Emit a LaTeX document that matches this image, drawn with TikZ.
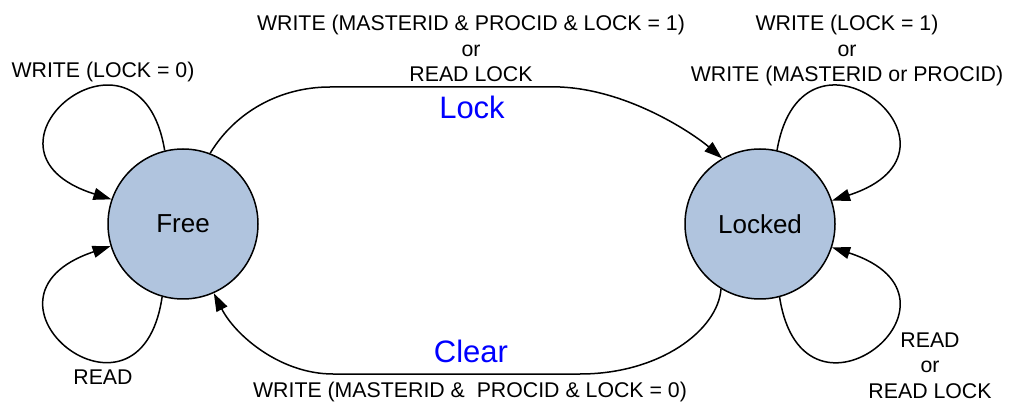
\documentclass[tikz,border=0pt]{standalone}
\usepackage{fontspec}
\setmainfont{Liberation Sans}
\usetikzlibrary{arrows.meta}
\definecolor{statefill}{RGB}{176,196,222}
\definecolor{tagblue}{RGB}{0,0,255}
\begin{document}
\begin{tikzpicture}[x=1pt,y=-1pt,
  statenode/.style={circle, draw, line width=1.5pt, fill=statefill,
    minimum size=150pt, inner sep=0pt, font=\fontsize{26}{30}\selectfont},
  trans/.style={line width=1.5pt, -{Triangle[length=18pt,width=12pt]}},
  lbl/.style={font=\fontsize{21.3}{25.5}\selectfont, inner sep=0pt, align=center},
  edgetag/.style={font=\fontsize{31}{36}\selectfont, text=tagblue, inner sep=0pt}]
\useasboundingbox (0,0) rectangle (1012,403);

% states
\node[statenode] (free)   at (183,224) {Free};
\node[statenode] (locked) at (760,224) {Locked};

% Free -> Locked
\draw[trans] (free.69) .. controls (235,112) and (280,87) .. (330,87)
  -- (560,87) .. controls (630,90) and (695,135) .. (locked.120);
% Locked -> Free
\draw[trans] (locked.239) .. controls (718,330) and (660,374) .. (580,374)
  -- (333,374) .. controls (280,374) and (235,335) .. (free.294);

% self loops
\draw[trans] (free.104) .. controls (140,0) and (-45,150) .. (free.161);
\draw[trans] (free.254) .. controls (140,448) and (-45,298) .. (free.197);
\draw[trans] (locked.77) .. controls (803,0) and (988,150) .. (locked.18);
\draw[trans] (locked.285) .. controls (803,448) and (988,298) .. (locked.342);

% conditions
\node[lbl, anchor=base]  (wl0)       at (103,77.5)  {WRITE (LOCK = 0)};
\node[lbl, anchor=base]  (rd)        at (103,384.5) {READ};
\node[lbl, anchor=north] (lockcond)  at (471,15)    {WRITE (MASTERID \& PROCID \& LOCK = 1)\\or\\READ LOCK};
\node[lbl, anchor=north] (relock)    at (847,15)    {WRITE (LOCK = 1)\\or\\WRITE (MASTERID or PROCID)};
\node[lbl, anchor=north] (reread)    at (930,332.5) {READ\\or\\READ LOCK};
\node[lbl, anchor=base]  (clearcond) at (470,397.5) {WRITE (MASTERID \&~ PROCID \& LOCK = 0)};

% transition names
\node[edgetag, anchor=base] (locktag)  at (472,119) {Lock};
\node[edgetag, anchor=base] (cleartag) at (471,362) {Clear};
\end{tikzpicture}
\end{document}
